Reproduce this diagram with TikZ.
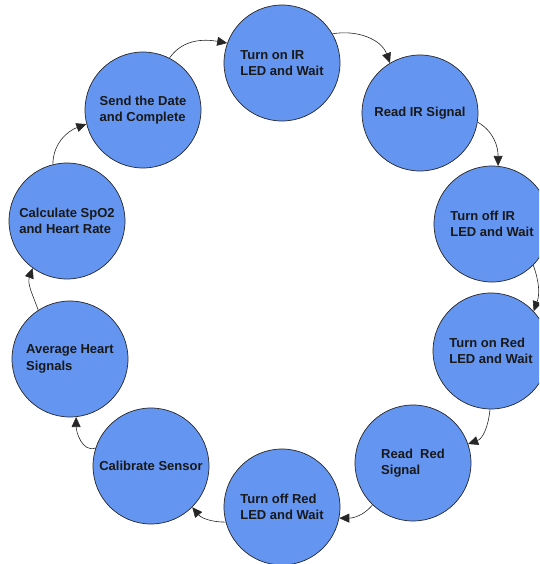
\documentclass[tikz,border=0pt]{standalone}
\usepackage{fontspec}
\setmainfont{Liberation Sans}
\usetikzlibrary{arrows.meta}
\definecolor{stepblue}{RGB}{100,149,240}
\begin{document}
\begin{tikzpicture}[x=1pt,y=-1pt,
  state/.style={circle,draw=black!85,line width=0.7pt,fill=stepblue,minimum size=116pt,inner sep=0pt,
    align=left,font=\fontsize{13}{16.5}\selectfont\bfseries,text=black!90},
  conn/.style={draw=black!85,line width=0.6pt,-{Triangle[length=10pt,width=9pt]}}]
\useasboundingbox (0,0) rectangle (539,564);
\clip (0,0) rectangle (539,564);
\node[state] (ir1) at (282,63) {Turn on IR\\LED and Wait};
\node[state] (rir) at (420,113) {Read IR Signal};
\node[state] (ir0) at (492,224) {Turn off IR\\LED and Wait};
\node[state] (red1) at (491,351) {Turn on Red\\LED and Wait};
\node[state] (rred) at (413,463) {Read\ \ Red\\Signal};
\node[state] (red0) at (282,507) {Turn off Red\\LED and Wait};
\node[state] (cal) at (151,466) {Calibrate Sensor};
\node[state] (avg) at (70,359) {Average Heart\\Signals};
\node[state] (calc) at (67,221) {Calculate SpO2\\and Heart Rate};
\node[state] (send) at (143,110) {Send the Date\\and Complete};
\draw[conn] (send.63) to[out=55,in=170] (ir1.160);
\draw[conn] (ir1.30) to[out=10,in=110] (rir.121);
\draw[conn] (rir.-9) to[out=-30,in=90] (ir0.84);
\draw[conn] (ir0.-45) to[out=-70,in=70] (red1.43);
\draw[conn] (red1.-91) to[out=-95,in=20] (rred.19);
\draw[conn] (rred.-134) to[out=-130,in=0] (red0.-11);
\draw[conn] (red0.-165) to[out=180,in=-50] (cal.-45);
\draw[conn] (cal.162) to[out=200,in=-90] (avg.-84);
\draw[conn] (avg.123) to[out=110,in=-110] (calc.-126);
\draw[conn] (calc.104) to[out=90,in=200] (send.-166);
\end{tikzpicture}
\end{document}
